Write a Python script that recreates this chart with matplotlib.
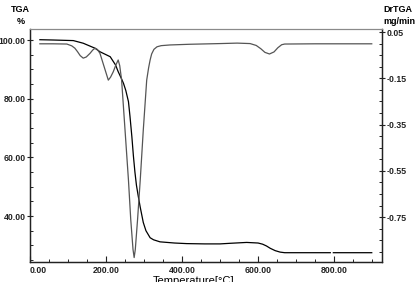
import numpy as np
import matplotlib.pyplot as plt
from matplotlib.ticker import MultipleLocator

# TGA curve (weight %); NaN is the small gap near 795
tga_temp = [26, 60, 114, 140, 171, 184, 211, 225, 232, 240, 246, 252, 259, 263,
            268, 272, 276, 280, 285, 290, 298, 305, 316, 325, 342, 380, 412,
            460, 500, 526, 570, 600, 612, 622, 632, 645, 658, 670, 680, 740,
            790, 794, 798, 850, 899]
tga_pct = [100.1, 100.0, 99.8, 98.9, 97.2, 96.0, 94.3, 91.5, 89.2, 87.0, 85.2,
           82.8, 79.0, 74.0, 67.0, 60.5, 55.0, 50.5, 46.6, 43.0, 37.8, 35.0,
           32.6, 31.9, 31.2, 30.8, 30.6, 30.5, 30.5, 30.7, 31.0, 30.8, 30.4,
           29.8, 29.0, 28.2, 27.7, 27.5, 27.5, 27.5, 27.5, np.nan, 27.5, 27.5,
           27.5]

# DrTGA curve (mg/min)
dtg_temp = [26, 60, 97, 110, 118, 125, 132, 140, 148, 158, 165, 171, 177, 184,
            195, 206, 212, 219, 226, 232, 236, 241, 250, 259, 265, 271, 274,
            277, 283, 290, 298, 307, 312, 316, 320, 326, 334, 345, 368, 420,
            500, 545, 579, 595, 607, 618, 630, 642, 652, 662, 670, 750, 850,
            899]
dtg_rate = [-0.001, -0.001, -0.002, -0.010, -0.020, -0.035, -0.052, -0.063,
            -0.058, -0.042, -0.028, -0.020, -0.025, -0.042, -0.100, -0.158,
            -0.145, -0.122, -0.092, -0.071, -0.095, -0.158, -0.374, -0.590,
            -0.760, -0.890, -0.925, -0.890, -0.760, -0.590, -0.374, -0.158,
            -0.105, -0.071, -0.045, -0.025, -0.014, -0.009, -0.006, -0.003,
            0.000, 0.002, 0.000, -0.008, -0.022, -0.038, -0.045, -0.036,
            -0.018, -0.005, -0.002, -0.001, -0.001, -0.001]

x_ticks = [0, 200, 400, 600, 800]
tga_ticks = [40, 60, 80, 100]
dtg_ticks = [0.05, -0.15, -0.35, -0.55, -0.75]

font = 'Liberation Sans'
tick_col = '#222222'

fig = plt.figure(figsize=(4.16, 2.82), dpi=100)
fig.set_facecolor('white')
ax = fig.add_axes([30 / 416, 1 - 261.5 / 282, 352 / 416, 232.5 / 282])
ax2 = ax.twinx()

ax.plot(tga_temp, tga_pct, color='black', lw=0.9)
ax2.plot(dtg_temp, dtg_rate, color='#555555', lw=0.9)

ax.set_xlim(0, 926)
ax.set_ylim(24.5, 103.75)
ax2.set_ylim(-0.942, 0.063)

ax.set_xticks(x_ticks)
ax.set_xticklabels([f'{v:.2f}' for v in x_ticks])
ax.xaxis.set_minor_locator(MultipleLocator(50))
ax.set_yticks(tga_ticks)
ax.set_yticklabels([f'{v:.2f}' for v in tga_ticks])
ax.yaxis.set_minor_locator(MultipleLocator(5))
ax2.set_yticks(dtg_ticks)
ax2.set_yticklabels([f'{v:.2f}' for v in dtg_ticks])
ax2.yaxis.set_minor_locator(MultipleLocator(0.05))

ax.tick_params(axis='x', which='major', direction='in', length=4, width=0.8,
               pad=3, labelsize=6.3, colors=tick_col)
ax.tick_params(axis='x', which='minor', direction='in', length=2, width=0.6)
ax.tick_params(axis='y', which='major', direction='inout', length=4, width=0.8,
               pad=1, labelsize=6.3, colors=tick_col)
ax.tick_params(axis='y', which='minor', direction='in', length=2, width=0.6)
ax2.tick_params(axis='y', which='major', direction='inout', length=4, width=0.8,
                pad=1, labelsize=6.3, colors=tick_col)
ax2.tick_params(axis='y', which='minor', direction='in', length=2, width=0.6)

for lab in ax.get_xticklabels() + ax.get_yticklabels() + ax2.get_yticklabels():
    lab.set_fontfamily(font)
    lab.set_fontweight('bold')
ax.get_xticklabels()[0].set_horizontalalignment('left')

for a in (ax, ax2):
    a.spines['top'].set_color('#8a8a8a')
    for s in ('left', 'right', 'bottom'):
        a.spines[s].set_color('#222222')
        a.spines[s].set_linewidth(0.9)

# axis titles, placed like the instrument software does
fig.text(20 / 416, 1 - 10 / 282, 'TGA', ha='center', va='center', fontsize=6.5,
         fontweight='bold', family=font)
fig.text(21 / 416, 1 - 21 / 282, '%', ha='center', va='center', fontsize=6.5,
         fontweight='bold', family=font)
fig.text(383 / 416, 1 - 10 / 282, 'DrTGA', ha='left', va='center', fontsize=6.5,
         fontweight='bold', family=font)
fig.text(383 / 416, 1 - 21 / 282, 'mg/min', ha='left', va='center', fontsize=6.5,
         fontweight='bold', family=font)
fig.text(194 / 416, 1 - 275.5 / 282, 'Temperature[°C]', ha='center', va='top',
         fontsize=8, family=font)

fig.savefig('out.png', dpi=100)
